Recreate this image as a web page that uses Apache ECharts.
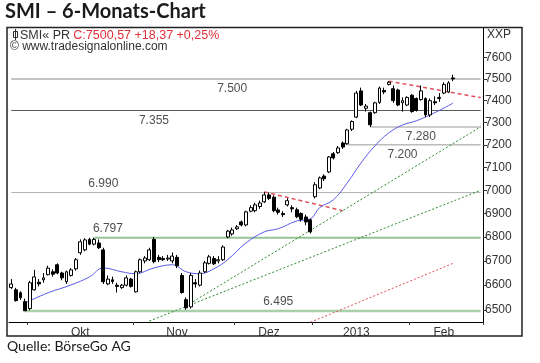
<!DOCTYPE html>
<html><head><meta charset="utf-8">
<script src="https://cdn.jsdelivr.net/npm/echarts@6/dist/echarts.min.js"></script>
<style>html,body{margin:0;padding:0;background:#fff;}#c{width:540px;height:363px;}</style>
</head><body><div id="c"></div>
<script>
// ---- categories (trading days) ----
const dates = [
 '2012-09-25','2012-09-26','2012-09-27','2012-09-28',
 '2012-10-01','2012-10-02','2012-10-03','2012-10-04','2012-10-05','2012-10-08','2012-10-09','2012-10-10','2012-10-11','2012-10-12',
 '2012-10-15','2012-10-16','2012-10-17','2012-10-18','2012-10-19','2012-10-22','2012-10-23','2012-10-24','2012-10-25','2012-10-26',
 '2012-10-29','2012-10-30','2012-10-31',
 '2012-11-01','2012-11-02','2012-11-05','2012-11-06','2012-11-07','2012-11-08','2012-11-09','2012-11-12','2012-11-13','2012-11-14',
 '2012-11-15','2012-11-16','2012-11-19','2012-11-20','2012-11-21','2012-11-22','2012-11-23','2012-11-26','2012-11-27','2012-11-28',
 '2012-11-29','2012-11-30',
 '2012-12-03','2012-12-04','2012-12-05','2012-12-06','2012-12-07','2012-12-10','2012-12-11','2012-12-12','2012-12-13','2012-12-14',
 '2012-12-17','2012-12-18','2012-12-19','2012-12-20','2012-12-21','2012-12-27','2012-12-28',
 '2013-01-03','2013-01-04','2013-01-07','2013-01-08','2013-01-09','2013-01-10','2013-01-11','2013-01-14','2013-01-15','2013-01-16',
 '2013-01-17','2013-01-18','2013-01-21','2013-01-22','2013-01-23','2013-01-24','2013-01-25','2013-01-28','2013-01-29','2013-01-30',
 '2013-01-31',
 '2013-02-01','2013-02-04','2013-02-05','2013-02-06','2013-02-07','2013-02-08','2013-02-11','2013-02-12','2013-02-13','2013-02-14',
 '2013-02-15','2013-02-18','2013-02-19','2013-02-20','2013-02-21','2013-02-22'
];
// ---- candles ----
const opens  = [6590,6581,6569,6533,6505,6581,6612,6622,6643,6655,6684,6650,6614,6640,6667,6734,6746,6790,6770,6775,
 6746,6605,6622,6600,6590,6600,6625,6573,6655,6700,6705,6790,6715,6710,6708,6700,6715,6640,6541,6512,
 6610,6600,6655,6690,6710,6700,6705,6800,6813,6835,6864,6851,6910,6912,6930,6950,6980,6970,6915,6900,
 6937,6925,6916,6900,6885,6873,6972,7010,7062,7080,7160,7165,7208,7205,7270,7325,7445,7365,7345,7345,
 7392,7447,7475,7455,7449,7390,7380,7425,7410,7405,7410,7335,7395,7410,7435,7440,7505];
const closes = [6605,6537,6549,6496,6610,6634,6605,6630,6670,6645,6650,6630,6655,6663,6705,6780,6788,6770,6790,6755,
 6614,6625,6615,6595,6600,6630,6595,6655,6705,6712,6746,6697,6705,6705,6712,6720,6680,6570,6508,6640,
 6605,6650,6692,6717,6688,6705,6758,6825,6830,6843,6851,6907,6925,6937,6945,6980,6965,6912,6905,6895,
 6955,6920,6886,6875,6864,6822,7024,7054,7050,7146,7142,7186,7190,7267,7305,7435,7380,7375,7290,7390,
 7458,7440,7485,7400,7380,7400,7415,7350,7355,7445,7335,7400,7390,7415,7475,7482,7500.57];
const lows   = [6585,6533,6540,6495,6498,6578,6595,6610,6640,6635,6645,6620,6605,6635,6660,6725,6740,6765,6765,6750,
 6605,6600,6605,6570,6585,6595,6590,6570,6650,6690,6700,6690,6695,6700,6700,6690,6670,6565,6500,6505,
 6590,6595,6650,6685,6683,6690,6700,6795,6805,6830,6845,6845,6905,6905,6920,6945,6958,6905,6895,6885,
 6930,6905,6880,6865,6850,6815,6965,7005,7040,7075,7135,7160,7182,7200,7262,7320,7375,7350,7280,7340,
 7385,7430,7470,7390,7375,7350,7375,7345,7350,7400,7325,7325,7380,7395,7430,7435,7490];
const highs  = [6625,6589,6575,6545,6618,6663,6625,6650,6680,6665,6690,6655,6660,6670,6712,6790,6795,6797,6797,6790,
 6755,6640,6635,6610,6605,6640,6630,6660,6710,6720,6755,6800,6725,6720,6725,6735,6725,6650,6550,6650,
 6625,6660,6700,6725,6720,6720,6765,6830,6840,6850,6870,6912,6935,6945,6955,6993,6990,6978,6925,6910,
 6965,6935,6925,6905,6895,6878,7035,7060,7070,7150,7168,7195,7215,7272,7310,7445,7460,7385,7350,7395,
 7465,7460,7490,7470,7455,7415,7420,7430,7415,7470,7415,7410,7420,7435,7485,7490,7520];
// ---- moving average (read at selected days) ----
const maIdx  = [3,8,13,17,20,24,27,31,35,38,41,44,47,51,55,58,62,65,67,70,73,76,79,82,85,88,91,94,96];
const maVals = [6528,6569,6601,6634,6671,6655,6647,6671,6684,6655,6647,6667,6705,6775,6822,6835,6868,6877,6925,6959,7032,7120,7195,7253,7289,7308,7335,7366,7389];
// ---- horizontal levels ----
const levels        = [7500,7355,7280,7200,6990,6797,6495];
const levelStartIdx = [0,0,78,73,0,18,3];
const levelTexts    = ['7.500','7.355','7.280','7.200','6.990','6.797','6.495'];
// ---- trend lines [startIdx,startVal,endIdx,endVal] ----
const redTop = [82,7490,102,7414];
const redMid = [55,6993,72,6912];
const redLow = [65,6450,96,6690];
const greenA = [38,6516,102,7281];
const greenB = [30,6455,102,7000];
// ---- axis ticks ----
const yTicks = [6500,6600,6700,6800,6900,7000,7100,7200,7300,7400,7500,7600];
const monthTickIdx  = [4,27,49,66,87];
const monthLabelIdx = [15,36,56,75,94];
const monthLabels   = ['Okt','Nov','Dez','2013','Feb'];
const lastIdx = dates.length - 1;

// ---- styles / placement (not data) ----
const F = "'Liberation Sans', Arial, sans-serif";
const levelStyle = [
  {color:'#8a8a8a', width:1}, {color:'#5a5a5a', width:1}, {color:'#9a9a9a', width:1}, {color:'#9a9a9a', width:1},
  {color:'#b0b0b0', width:1}, {color:'#94c494', width:2}, {color:'#a9d1a9', width:2.5}
];
const levelLabelIdx = [48,31,89,85,20,21,58];
const levelLabelPos = ['bottom','bottom','bottom','bottom','top','top','top'];

const candleData = opens.map((o,i)=>[o, closes[i], lows[i], highs[i]]);

const series = [];
levels.forEach((v,k)=>{
  series.push({type:'line', silent:true, symbol:'none', z:1,
    data:[[levelStartIdx[k], v],[lastIdx, v]],
    lineStyle:{color:levelStyle[k].color, width:levelStyle[k].width}});
});
function trend(t, color, type, width){
  return {type:'line', silent:true, symbol:'none', z:3, clip:true,
    data:[[t[0],t[1]],[t[2],t[3]]], lineStyle:{color, type, width}};
}
series.push(trend(greenA,'#2f8a2f',[2,2],1));
series.push(trend(greenB,'#2f8a2f',[2,2],1));
series.push(trend(redLow,'#e0505a',[2,2],1));
series.push(trend(redMid,'#e0505a',[4,3],1.5));
series.push(trend(redTop,'#e0505a',[4,3],1.5));
series.push({type:'line', silent:true, symbol:'none', smooth:0.4, z:4,
  data: maIdx.map((x,i)=>[x, maVals[i]]), lineStyle:{color:'#5a5ae6', width:1}});
series.push({type:'candlestick', z:5, barWidth:3.4, data:candleData,
  itemStyle:{color:'#ffffff', color0:'#000000', borderColor:'#000000', borderColor0:'#000000', borderWidth:1}});
series.push({type:'scatter', silent:true, symbolSize:0, z:6,
  data: levels.map((v,k)=>({value:[levelLabelIdx[k], v],
     label:{show:true, position:levelLabelPos[k], distance: levelLabelPos[k]==='top'?3:4, formatter: levelTexts[k],
       fontFamily:F, fontSize:12, color:'#222'}}))});

const chart = echarts.init(document.getElementById('c'), null, {renderer:'canvas'});
chart.setOption({
  animation:false,
  backgroundColor:'#fff',
  grid:{left:9, right:57, top:28, bottom:41},
  xAxis:{type:'category', data:dates, boundaryGap:true,
    axisLine:{show:true, lineStyle:{color:'#000', width:1}},
    axisTick:{show:true, length:3, lineStyle:{color:'#333'}, interval:(i)=>monthTickIdx.includes(i)},
    axisLabel:{interval:(i)=>monthLabelIdx.includes(i), margin:5, fontFamily:F, fontSize:12, color:'#333',
      formatter:(v,i)=>{const k=monthLabelIdx.indexOf(i); return k>=0?monthLabels[k]:'';}},
    splitLine:{show:false}},
  yAxis:{type:'log', logBase:10, position:'right', min:6451, max:7741,
    axisLine:{show:true, lineStyle:{color:'#000', width:1}},
    axisTick:{show:true, length:4, inside:false, customValues:yTicks, lineStyle:{color:'#333'}},
    axisLabel:{customValues:yTicks, margin:2, fontFamily:F, fontSize:12, color:'#333', formatter:(v)=>String(Math.round(v))},
    splitLine:{show:false}},
  series,
  graphic:[
    {type:'rect', shape:{x:7, y:27.5, width:515, height:308.5}, style:{fill:'none', stroke:'#222', lineWidth:1.5}, z:100},
    {type:'text', left:5, top:2, style:{text:'SMI – 6-Monats-Chart', font:"bold 20px Lato, 'Open Sans', sans-serif", fill:'#1a1a1a'}},
    {type:'text', left:7, top:339, style:{text:'Quelle: BörseGo AG', font:"14px Lato, 'Open Sans', sans-serif", fill:'#1a1a1a'}},
    {type:'rect', shape:{x:13.5, y:31.5, width:4, height:6}, style:{fill:'#fff', stroke:'#333', lineWidth:1}},
    {type:'line', shape:{x1:15.5, y1:29, x2:15.5, y2:40}, style:{stroke:'#333', lineWidth:1}},
    {type:'text', left:20, top:29, style:{text:'{a|SMI« PR} {b|C:7500,57 +18,37 +0,25%}',
      rich:{a:{fill:'#333', font:"12.5px 'Liberation Sans', Arial"}, b:{fill:'#e0303a', font:"12.5px 'Liberation Sans', Arial"}}}},
    {type:'text', left:10, top:41, style:{text:'© www.tradesignalonline.com', font:"12px 'Liberation Sans', Arial", fill:'#333'}},
    {type:'text', left:487, top:29, style:{text:'XXP', font:"12px 'Liberation Sans', Arial", fill:'#333'}}
  ]
});
</script></body></html>
